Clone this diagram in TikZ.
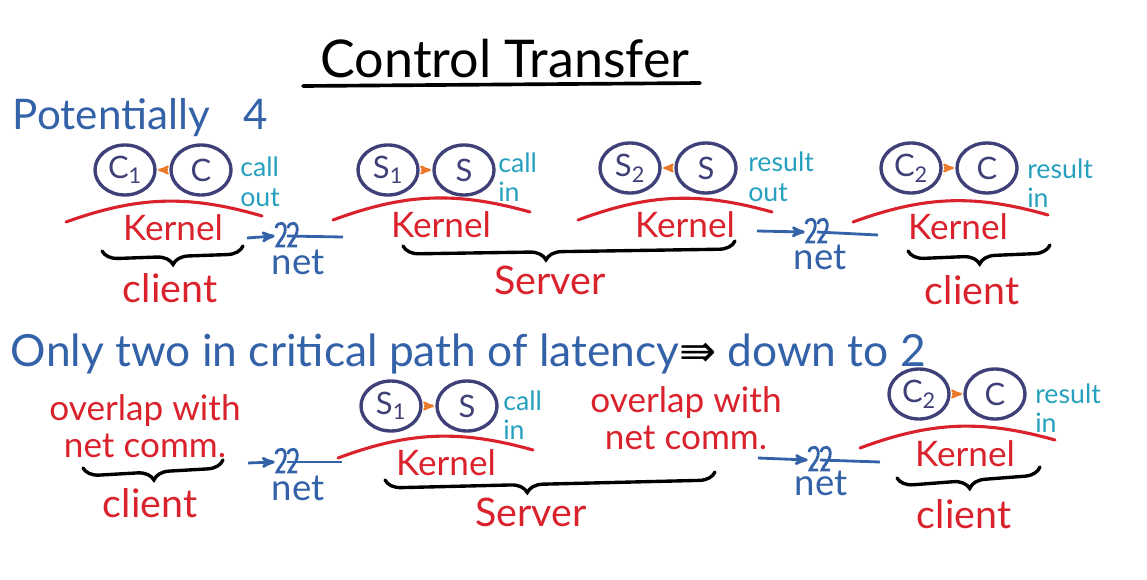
\documentclass[tikz,border=0pt]{standalone}
\usepackage{fontspec}
\setmainfont{Lato}
\newfontfamily\symfont{DejaVu Sans}
\usepackage{tikz}
\usetikzlibrary{arrows,shapes.geometric,decorations.pathreplacing}

\definecolor{inkblue}{RGB}{52,98,168}
\definecolor{inknavy}{RGB}{64,64,120}
\definecolor{inkred}{RGB}{218,34,44}
\definecolor{inkcyan}{RGB}{38,160,190}
\definecolor{inkorange}{RGB}{235,120,40}

% the two little squiggles that cut a net line
\tikzset{netbreak/.pic={
  \draw[inkblue,line width=2pt] (-11,-8) .. controls (-10,-15) and (0,-15) .. (-2,-4) .. controls (-3,1) and (-8,5) .. (-10,10) -- (-2,10);
  \draw[inkblue,line width=2pt] (1,-8) .. controls (2,-15) and (12,-15) .. (10,-4) .. controls (9,1) and (4,5) .. (2,10) -- (10,10);
}}

\begin{document}
\begin{tikzpicture}[x=0.025cm,y=-0.025cm,>=stealth',node distance=1.9cm]
  \tikzstyle{proc}=[ellipse,draw=inknavy,line width=2.4pt,minimum width=1.5cm,minimum height=1.25cm,inner sep=0pt,text=inknavy,font=\fontsize{22}{24}\selectfont]
  \tikzstyle{kernel}=[text=inkred,font=\fontsize{25}{30}\selectfont]
  \tikzstyle{side}=[text=inkred,font=\fontsize{28}{32}\selectfont]
  \tikzstyle{note}=[text=inkcyan,font=\fontsize{19}{21}\selectfont,align=left,anchor=west,inner sep=0pt]
  \tikzstyle{netlbl}=[text=inkblue,font=\fontsize{26}{30}\selectfont]
  \tikzstyle{overlap}=[text=inkred,font=\fontsize{25}{26}\selectfont,align=center]
  \tikzstyle{kline}=[draw=inkred,line width=2.2pt,line cap=round]
  \tikzstyle{bracket}=[draw=black,line width=2.4pt,line cap=round,decorate,decoration={brace,mirror,amplitude=0.4cm}]
  \tikzstyle{netline}=[draw=inkblue,line width=2pt]
  \tikzstyle{handoff}=[->,draw=inkorange,line width=1.6pt,shorten >=1pt,shorten <=1pt]

  \useasboundingbox (0,0) rectangle (1147,580);

  % title and headings
  \node[anchor=base,font=\fontsize{37}{42}\selectfont] (title) at (505,77) {Control Transfer};
  \draw[line width=2.6pt,line cap=round] (303,86) -- (700,83);
  \node[anchor=base west,text=inkblue,font=\fontsize{30}{34}\selectfont] (pot) at (8,129) {Potentially\hspace{0.8em}4};

  % ---- four crossings ----
  \node[proc] (C1)              at (125,170) {C\textsubscript{1}};
  \node[proc] (Ca) [right of=C1]             {C};
  \node[proc] (S1)              at (388,170) {S\textsubscript{1}};
  \node[proc] (Sa) [right of=S1]             {S};
  \node[proc] (S2)              at (630,168) {S\textsubscript{2}};
  \node[proc] (Sb) [right of=S2]             {S};
  \node[proc] (C2)              at (911,168) {C\textsubscript{2}};
  \node[proc] (Cb) [right of=C2]             {C};

  \node[note] (co) at (240,182) {call\\out};
  \node[note] (ci) at (498,177) {call\\in};
  \node[note] (ro) at (748,177) {result\\out};
  \node[note] (ri) at (1027,183) {result\\in};

  \path (Ca) edge[handoff] (C1)
        (S1) edge[handoff] (Sa)
        (Sb) edge[handoff] (S2)
        (C2) edge[handoff] (Cb);

  \draw[kline] (66,222) to[bend left=18] (262,216);
  \draw[kline] (333,220) to[bend left=18] (530,212);
  \draw[kline] (578,220) to[bend left=18] (772,212);
  \draw[kline] (853,222) to[bend left=18] (1048,215);
  \node[kernel] (k1) at (173,228) {Kernel};
  \node[kernel] (k2) at (441,225) {Kernel};
  \node[kernel] (k3) at (685,225) {Kernel};
  \node[kernel] (k4) at (958,227) {Kernel};

  \draw[bracket] (102,251) -- (243,246);
  \draw[bracket,decoration={aspect=0.43}] (403,246) -- (735,241);
  \draw[bracket] (908,251) -- (1050,245);
  \node[side] (cl1) at (170,288) {client};
  \node[side] (srv1) at (550,280) {Server};
  \node[side] (cl2) at (972,290) {client};

  \coordinate (na1) at (247,238);
  \node[inner sep=0pt,minimum width=0.6cm] (nb1) at (287,236) {};
  \coordinate (nc1) at (343,237);
  \draw[netline,->] (na1) -- (nb1.west);
  \draw[netline] (nb1.center) -- (nc1);
  \pic at (nb1) {netbreak};
  \node[netlbl] (net1) at (298,262) {net};

  \coordinate (na2) at (757,231);
  \node[inner sep=0pt,minimum width=0.6cm] (nb2) at (817,232) {};
  \coordinate (nc2) at (878,235);
  \draw[netline,->] (na2) -- (nb2.west);
  \draw[netline] (nb2.center) -- (nc2);
  \pic at (nb2) {netbreak};
  \node[netlbl] (net2) at (820,257) {net};

  % ---- critical path only ----
  \node[anchor=base west,text=inkblue,font=\fontsize{31.5}{36}\selectfont] (crit) at (6,366)
    {Only two in critical path of latency{\symfont\color{black}⇛} down to 2};

  \node[overlap] (ov1) at (145,426) {overlap with\\net comm.};
  \node[overlap] (ov2) at (686,418) {overlap with\\net comm.};

  \node[proc] (S3)              at (391,406) {S\textsubscript{1}};
  \node[proc] (Sc) [right of=S3]             {S};
  \node[proc] (C3)              at (919,394) {C\textsubscript{2}};
  \node[proc] (Cc) [right of=C3]             {C};
  \node[note] (ci2) at (503,415) {call\\in};
  \node[note] (ri2) at (1035,408) {result\\in};

  \path (S3) edge[handoff] (Sc)
        (C3) edge[handoff] (Cc);

  \draw[kline] (338,458) to[bend left=18] (533,450);
  \draw[kline] (860,448) to[bend left=18] (1055,440);
  \node[kernel] (k5) at (446,463) {Kernel};
  \node[kernel] (k6) at (965,454) {Kernel};

  \draw[bracket] (83,468) -- (223,460);
  \draw[bracket,decoration={aspect=0.43}] (385,480) -- (715,472);
  \draw[bracket] (897,478) -- (1040,467);
  \node[side] (cl3) at (150,503) {client};
  \node[side] (srv2) at (531,512) {Server};
  \node[side] (cl4) at (964,514) {client};

  \coordinate (na3) at (248,463);
  \node[inner sep=0pt,minimum width=0.6cm] (nb3) at (287,462) {};
  \coordinate (nc3) at (342,462);
  \draw[netline,->] (na3) -- (nb3.west);
  \draw[netline] (nb3.center) -- (nc3);
  \pic at (nb3) {netbreak};
  \node[netlbl] (net3) at (298,488) {net};

  \coordinate (na4) at (758,458);
  \node[inner sep=0pt,minimum width=0.6cm] (nb4) at (820,460) {};
  \coordinate (nc4) at (880,462);
  \draw[netline,->] (na4) -- (nb4.west);
  \draw[netline] (nb4.center) -- (nc4);
  \pic at (nb4) {netbreak};
  \node[netlbl] (net4) at (821,483) {net};
\end{tikzpicture}
\end{document}
